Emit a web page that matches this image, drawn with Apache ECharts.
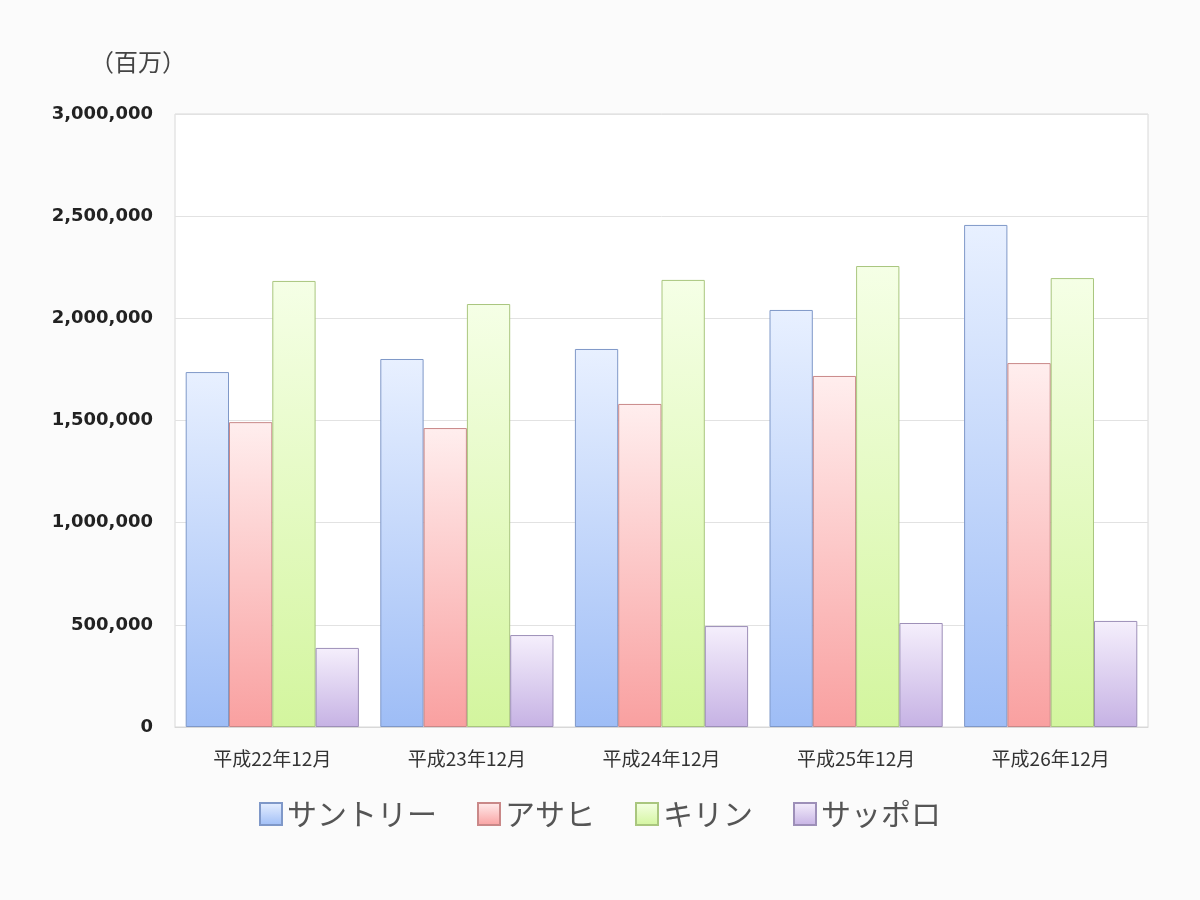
<!DOCTYPE html>
<html>
<head>
<meta charset="utf-8">
<title>ビール売上</title>
<script src="https://cdn.jsdelivr.net/npm/echarts@6/dist/echarts.min.js"></script>
<style>
  html, body { margin: 0; padding: 0; background: #fbfbfb; }
  #chartmain { width: 1200px; height: 900px; }
</style>
</head>
<body>
<div id="chartmain"></div>
<script>
// 年度
var categories = ["平成22年12月", "平成23年12月", "平成24年12月", "平成25年12月", "平成26年12月"];
// 各社（百万）
var suntory = [1737000, 1801000, 1850000, 2041000, 2457000];
var asahi = [1492000, 1463000, 1581000, 1718000, 1781000];
var kirin = [2183000, 2070000, 2188000, 2256000, 2197000];
var sapporo = [387000, 450000, 494000, 509000, 519000];
var yTicks = [0, 500000, 1000000, 1500000, 2000000, 2500000, 3000000];

function grad(top, bottom) {
  return new echarts.graphic.LinearGradient(0, 0, 0, 1, [
    { offset: 0, color: top },
    { offset: 1, color: bottom }
  ]);
}

function bar(name, data, top, bottom, border) {
  return {
    name: name,
    type: "bar",
    data: data,
    barGap: "0%",
    barCategoryGap: "11%",
    itemStyle: { color: grad(top, bottom), borderColor: border, borderWidth: 1 }
  };
}

var myChart = echarts.init(document.getElementById("chartmain"));
var option = {
  backgroundColor: "#fbfbfb",
  animation: false,
  grid: {
    left: 175, right: 52, top: 114, bottom: 173,
    show: true, backgroundColor: "#ffffff", borderColor: "#d8d8d8", borderWidth: 1
  },
  graphic: [{
    type: "text", left: 90, top: 50,
    style: { text: "（百万）", font: "24px 'Noto Sans CJK JP'", fill: "#444" }
  }],
  legend: {
    bottom: 66, left: "center", itemWidth: 22, itemHeight: 22, itemGap: 40,
    icon: "rect",
    textStyle: { fontSize: 30, color: "#555", fontFamily: "'Noto Sans CJK JP'" }
  },
  xAxis: {
    type: "category",
    data: categories,
    axisLine: { lineStyle: { color: "#d8d8d8" } },
    axisTick: { show: false },
    axisLabel: { fontSize: 19, color: "#333", margin: 22, fontFamily: "'Noto Sans CJK JP'" }
  },
  yAxis: {
    type: "value",
    min: yTicks[0],
    max: yTicks[yTicks.length - 1],
    interval: yTicks[1] - yTicks[0],
    axisLine: { show: false },
    axisTick: { show: false },
    splitLine: { lineStyle: { color: "#e2e2e2" } },
    axisLabel: {
      fontSize: 18, fontWeight: "bold", color: "#222", margin: 22,
      fontFamily: "'DejaVu Sans'",
      formatter: function (v) { return v.toLocaleString("en-US"); }
    }
  },
  series: [
    bar("サントリー", suntory, "#e8f0ff", "#9ebdf6", "#7f98c8"),
    bar("アサヒ", asahi, "#ffeeee", "#f9a0a0", "#c98888"),
    bar("キリン", kirin, "#f5ffe6", "#d3f59e", "#a9c67e"),
    bar("サッポロ", sapporo, "#f5effc", "#c6b2e4", "#9d8fb8")
  ]
};
myChart.setOption(option);
</script>
</body>
</html>
